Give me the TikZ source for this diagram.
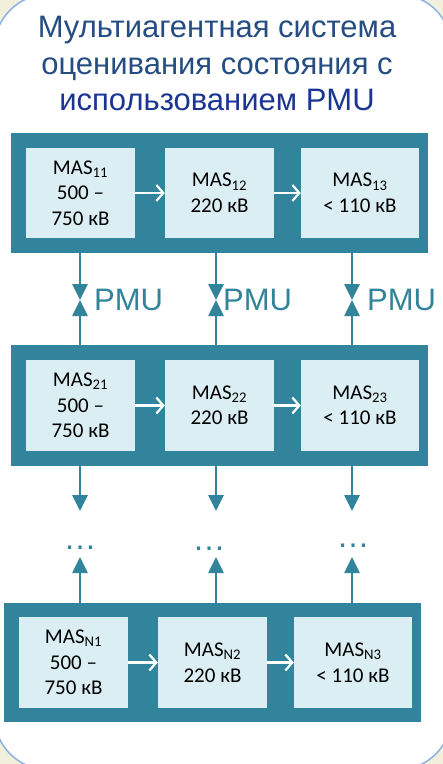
\documentclass[tikz,border=0pt]{standalone}
\usepackage{fontspec}
\setmainfont{Carlito}
\newfontfamily\titlefont{Liberation Sans}
\usetikzlibrary{arrows.meta}
\definecolor{teal1}{HTML}{31849B}
\definecolor{innerfill}{HTML}{DAEEF3}
\definecolor{cream}{HTML}{F2EFDC}
\definecolor{rimblue}{HTML}{8DB3E2}
\definecolor{titlea}{HTML}{254D82}
\definecolor{titleb}{HTML}{1A3690}
\tikzset{
  outerbox/.style={draw=none, fill=teal1, inner sep=0pt, minimum width=417pt},
  innerbox/.style={draw=none, fill=innerfill, inner sep=0pt, align=center,
    font=\fontsize{21}{25.5}\selectfont, text=black},
  whitearrow/.style={draw=white, line width=2.2pt, -{Straight Barb[length=7pt,width=16pt,line width=2.2pt]}},
  tealarrow/.style={draw=teal1, line width=2.6pt, -{Triangle[length=16pt,width=15pt]}},
  titletext/.style={font=\titlefont\fontsize{31}{36}\selectfont, anchor=base, inner sep=0pt},
  pmutext/.style={font=\titlefont\fontsize{31}{36}\selectfont, text=teal1, anchor=west, inner sep=0pt},
  dotstext/.style={font=\titlefont\fontsize{33}{36}\selectfont, text=teal1, inner sep=0pt}
}
\begin{document}
\begin{tikzpicture}[x=1pt,y=-1pt]
\useasboundingbox (0,0) rectangle (443,764);
\fill[cream] (0,0) rectangle (443,764);
\draw[rimblue, fill=white, line width=1.5pt, rounded corners=55pt] (-6,-6) rectangle (452,770);

% title
\node[titletext, text=titlea] (t1) at (217,37) {Мультиагентная система};
\node[titletext, text=titlea] (t2) at (217,74) {оценивания состояния с};
\node[titletext, text=titleb] (t3) at (217,110) {использованием PMU};

% outer boxes
\node[outerbox, minimum height=120pt] (r1) at (219.5,193) {};
\node[outerbox, minimum height=121pt] (r2) at (219.5,405.5) {};
\node[outerbox, minimum height=119pt] (rN) at (212.5,662.5) {};

% inner boxes row 1
\node[innerbox, minimum width=109pt, minimum height=90pt] (a11) at (80.5,193) {MAS\textsubscript{11}\\500 –\\750 кВ};
\node[innerbox, minimum width=109pt, minimum height=90pt] (a12) at (219.5,193) {MAS\textsubscript{12}\\220 кВ};
\node[innerbox, minimum width=118pt, minimum height=90pt] (a13) at (360,193) {MAS\textsubscript{13}\\< 110 кВ};
% row 2
\node[innerbox, minimum width=109pt, minimum height=91pt] (a21) at (80.5,405.5) {MAS\textsubscript{21}\\500 –\\750 кВ};
\node[innerbox, minimum width=109pt, minimum height=91pt] (a22) at (219.5,405.5) {MAS\textsubscript{22}\\220 кВ};
\node[innerbox, minimum width=118pt, minimum height=91pt] (a23) at (360,405.5) {MAS\textsubscript{23}\\< 110 кВ};
% row N
\node[innerbox, minimum width=109pt, minimum height=91pt] (aN1) at (73.5,662.5) {MAS\textsubscript{N1}\\500 –\\750 кВ};
\node[innerbox, minimum width=109pt, minimum height=91pt] (aN2) at (212.5,662.5) {MAS\textsubscript{N2}\\220 кВ};
\node[innerbox, minimum width=118pt, minimum height=91pt] (aN3) at (353,662.5) {MAS\textsubscript{N3}\\< 110 кВ};

% white arrows
\draw[whitearrow] (a11) -- (a12);
\draw[whitearrow] (a12) -- (a13);
\draw[whitearrow] (a21) -- (a22);
\draw[whitearrow] (a22) -- (a23);
\draw[whitearrow] (aN1) -- (aN2);
\draw[whitearrow] (aN2) -- (aN3);

% PMU meeting points
\coordinate (p1) at (80,300);
\coordinate (p2) at (216,300);
\coordinate (p3) at (352,300);
\draw[tealarrow] (r1.south -| p1) -- (p1);
\draw[tealarrow] (r2.north -| p1) -- (p1);
\draw[tealarrow] (r1.south -| p2) -- (p2);
\draw[tealarrow] (r2.north -| p2) -- (p2);
\draw[tealarrow] (r1.south -| p3) -- (p3);
\draw[tealarrow] (r2.north -| p3) -- (p3);
\node[pmutext] (m1) at (94,300) {PMU};
\node[pmutext] (m2) at (223,300) {PMU};
\node[pmutext] (m3) at (367,300) {PMU};

% down arrows and dots
\coordinate (d1) at (80,511);
\coordinate (d2) at (216,511);
\coordinate (d3) at (352,511);
\coordinate (u1) at (80,557);
\coordinate (u2) at (216,557);
\coordinate (u3) at (352,557);
\draw[tealarrow] (r2.south -| d1) -- (d1);
\draw[tealarrow] (r2.south -| d2) -- (d2);
\draw[tealarrow] (r2.south -| d3) -- (d3);
\draw[tealarrow] (rN.north -| u1) -- (u1);
\draw[tealarrow] (rN.north -| u2) -- (u2);
\draw[tealarrow] (rN.north -| u3) -- (u3);
\node[dotstext, anchor=base] (e1) at (80,549) {…};
\node[dotstext, anchor=base] (e2) at (209,550) {…};
\node[dotstext, anchor=base] (e3) at (353,547) {…};
\end{tikzpicture}
\end{document}
